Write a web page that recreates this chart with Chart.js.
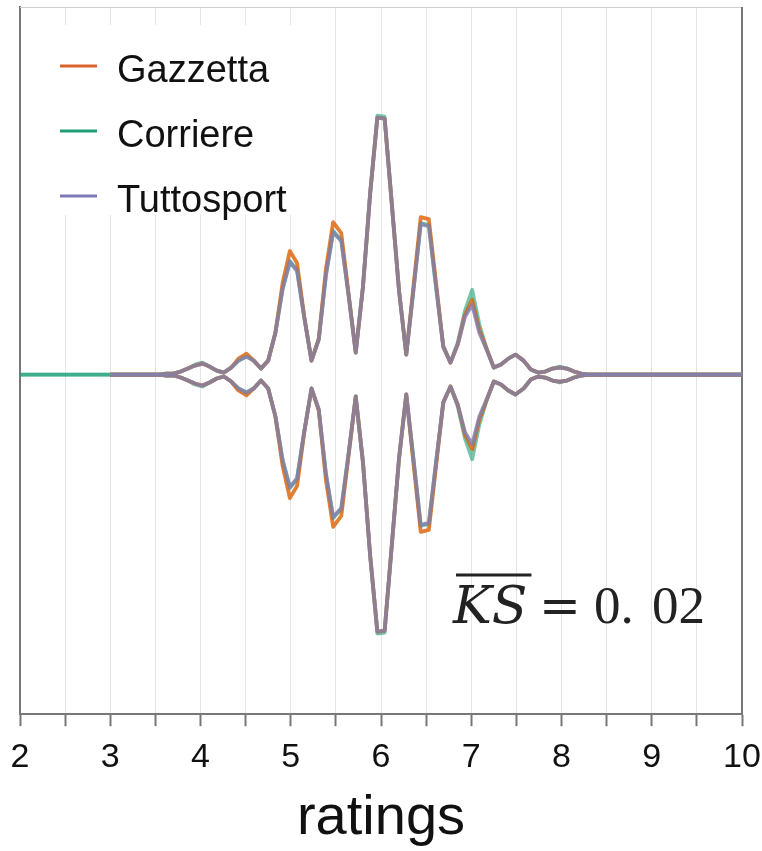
<!DOCTYPE html>
<html>
<head>
<meta charset="utf-8">
<script src="https://cdn.jsdelivr.net/npm/chart.js@4.4.1/dist/chart.umd.min.js"></script>
<style>
  body { margin: 0; background: #fff; }
  canvas { display: block; }
</style>
</head>
<body>
<canvas id="chart" width="762" height="851"></canvas>
<script>
// データ ---------------
const ratings = [2, 3, 3.54, 3.62, 3.70, 3.78, 3.86, 3.94, 4.02, 4.10, 4.18, 4.26, 4.34, 4.42, 4.51, 4.59,
  4.67, 4.75, 4.83, 4.91, 4.99, 5.07, 5.15, 5.23, 5.31, 5.39, 5.47, 5.56, 5.64, 5.72, 5.80, 5.88,
  5.96, 6.04, 6.12, 6.20, 6.28, 6.36, 6.44, 6.53, 6.61, 6.69, 6.77, 6.85, 6.93, 7.01, 7.09, 7.17,
  7.25, 7.33, 7.41, 7.49, 7.58, 7.66, 7.74, 7.82, 7.90, 7.98, 8.06, 8.14, 8.22, 8.30, 10];

const gazzetta = [null, 0, 0, 0.005, 0.005, 0.015, 0.03, 0.045, 0.055, 0.04, 0.02, 0.01, 0.035, 0.08, 0.105, 0.07,
  0.03, 0.07, 0.21, 0.46, 0.62, 0.56, 0.29, 0.07, 0.18, 0.53, 0.765, 0.71, 0.41, 0.11, 0.44, 0.91,
  1.29, 1.285, 0.855, 0.42, 0.1, 0.445, 0.79, 0.78, 0.46, 0.14, 0.06, 0.15, 0.3, 0.375, 0.225, 0.13,
  0.035, 0.05, 0.08, 0.1, 0.07, 0.025, 0.01, 0.015, 0.03, 0.035, 0.03, 0.015, 0.005, 0, 0];

const corriere = [0, 0, 0, 0.005, 0.005, 0.015, 0.03, 0.05, 0.06, 0.04, 0.02, 0.01, 0.035, 0.07, 0.09, 0.07,
  0.03, 0.07, 0.21, 0.43, 0.57, 0.525, 0.285, 0.07, 0.175, 0.5, 0.72, 0.675, 0.4, 0.11, 0.44, 0.91,
  1.3, 1.295, 0.855, 0.42, 0.1, 0.425, 0.76, 0.75, 0.44, 0.14, 0.06, 0.16, 0.32, 0.425, 0.25, 0.13,
  0.035, 0.05, 0.08, 0.1, 0.07, 0.025, 0.01, 0.015, 0.03, 0.04, 0.03, 0.015, 0.005, 0, 0];

const tuttosport = [null, 0, 0, 0.005, 0.005, 0.015, 0.03, 0.045, 0.055, 0.04, 0.02, 0.01, 0.035, 0.07, 0.09, 0.07,
  0.03, 0.07, 0.21, 0.43, 0.565, 0.52, 0.285, 0.07, 0.175, 0.5, 0.715, 0.67, 0.4, 0.11, 0.44, 0.91,
  1.29, 1.285, 0.855, 0.42, 0.1, 0.425, 0.755, 0.745, 0.44, 0.14, 0.06, 0.15, 0.29, 0.35, 0.21, 0.125,
  0.035, 0.05, 0.08, 0.1, 0.07, 0.025, 0.01, 0.015, 0.03, 0.035, 0.03, 0.015, 0.005, 0, 0];

const seriesNames = ["Gazzetta", "Corriere", "Tuttosport"];
const xTicks = [2, 3, 4, 5, 6, 7, 8, 9, 10];
const ksLabel = "0. 02";

// 色
const lineColors = {
  Gazzetta: "rgba(217, 95, 2, 0.8)",
  Corriere: "rgba(27, 158, 119, 0.6)",
  Tuttosport: "rgba(132, 128, 172, 0.82)"
};
const legendColors = { Gazzetta: "#d9632c", Corriere: "#1f9e78", Tuttosport: "#7e79b6" };
const drawOrder = { Gazzetta: 1, Corriere: 2, Tuttosport: 0 };

// 上下対称（バイオリン風）のデータセット
const seriesData = { Gazzetta: gazzetta, Corriere: corriere, Tuttosport: tuttosport };
const datasets = [];
for (const name of seriesNames) {
  const vals = seriesData[name];
  for (const sign of [1, -1]) {
    datasets.push({
      label: name,
      data: ratings.map((r, i) => ({ x: r, y: vals[i] === null ? null : sign * vals[i] })),
      borderColor: lineColors[name],
      borderWidth: 3.8,
      pointRadius: 0,
      fill: false,
      tension: 0,
      borderJoinStyle: "round",
      spanGaps: false,
      order: drawOrder[name]
    });
  }
}

// 枠・凡例・KS 表示 ---------------
const decorPlugin = {
  id: "decor",
  beforeDatasetsDraw(chart) {
    const { ctx, chartArea: a } = chart;
    ctx.save();
    // 上・右の枠
    ctx.strokeStyle = "#d0d0d0";
    ctx.lineWidth = 1;
    ctx.beginPath();
    ctx.moveTo(a.left, a.top + 0.5);
    ctx.lineTo(a.right, a.top + 0.5);
    ctx.stroke();
    ctx.strokeStyle = "#777";
    ctx.lineWidth = 2;
    ctx.beginPath();
    ctx.moveTo(a.right, a.top);
    ctx.lineTo(a.right, a.bottom);
    ctx.stroke();

    // 凡例（白い背景でグリッドを隠す）
    ctx.fillStyle = "#fff";
    ctx.fillRect(a.left + 1, 25, 280, 190);
    ctx.font = "38px 'Liberation Sans', Arial, sans-serif";
    ctx.textBaseline = "alphabetic";
    seriesNames.forEach((name, i) => {
      const y = 66 + i * 65;
      ctx.strokeStyle = legendColors[name];
      ctx.lineWidth = 3;
      ctx.beginPath();
      ctx.moveTo(60, y);
      ctx.lineTo(97, y);
      ctx.stroke();
      ctx.fillStyle = "#111";
      ctx.fillText(name, 117, y + 16);
    });
    ctx.restore();
  },
  afterDatasetsDraw(chart) {
    const { ctx } = chart;
    ctx.save();
    ctx.fillStyle = "#222";
    ctx.strokeStyle = "#222";
    ctx.textBaseline = "alphabetic";
    ctx.font = "italic 52px 'DejaVu Serif', serif";
    ctx.fillText("KS", 453, 623);
    const ksW = ctx.measureText("KS").width;
    ctx.lineWidth = 3;
    ctx.beginPath();
    ctx.moveTo(456, 575);
    ctx.lineTo(453 + ksW + 4, 575);
    ctx.stroke();
    ctx.font = "50px 'DejaVu Serif', serif";
    ctx.fillText("=", 539, 623);
    const parts = ksLabel.split(" ");
    ctx.font = "53px 'Liberation Serif', 'Times New Roman', serif";
    ctx.fillText(parts[0], 594, 623);
    ctx.fillText(parts[1], 652, 623);
    ctx.restore();
  }
};

const ctx = document.getElementById("chart").getContext("2d");
new Chart(ctx, {
  type: "line",
  data: { datasets },
  options: {
    responsive: false,
    devicePixelRatio: 1,
    animation: false,
    layout: { padding: { left: 20, right: 20, top: 7, bottom: 4 } },
    plugins: { legend: { display: false }, tooltip: { enabled: false } },
    scales: {
      x: {
        type: "linear",
        min: 2,
        max: 10,
        position: "bottom",
        afterBuildTicks(scale) {
          const t = [];
          for (let i = 0; i <= 16; i++) t.push({ value: 2 + i * 0.5 });
          scale.ticks = t;
        },
        afterFit(scale) {
          scale.paddingLeft = 0;
          scale.paddingRight = 0;
        },
        ticks: {
          autoSkip: false,
          maxRotation: 0,
          padding: 11,
          color: "#111",
          font: { family: "'Liberation Sans', Arial, sans-serif", size: 34 },
          callback: v => (xTicks.includes(v) ? String(v) : "")
        },
        grid: { color: "#e4e4e4", lineWidth: 1, tickColor: "#777", tickLength: 12, tickWidth: 2 },
        border: { color: "#777", width: 2 },
        title: {
          display: true,
          text: "ratings",
          color: "#111",
          font: { family: "'Liberation Sans', Arial, sans-serif", size: 56, lineHeight: 1.0 },
          padding: { top: 2, bottom: 0 }
        }
      },
      y: {
        min: -1.705,
        max: 1.845,
        ticks: { display: false },
        grid: { display: false, drawTicks: false },
        border: { color: "#777", width: 2 }
      }
    }
  },
  plugins: [decorPlugin]
});
</script>
</body>
</html>
